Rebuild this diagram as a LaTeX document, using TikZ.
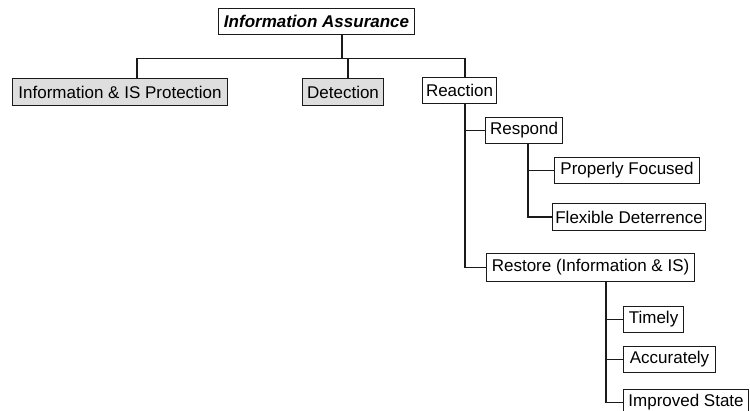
\documentclass[tikz,border=0pt]{standalone}
\usepackage{fontspec}
\setmainfont{Liberation Sans}
\usetikzlibrary{calc}
\definecolor{boxgray}{HTML}{DEDEDE}
\definecolor{ink}{HTML}{1A1A1A}
\begin{document}
\begin{tikzpicture}[x=1pt,y=-1pt,
  box/.style={draw=ink, line width=1.1pt, fill=white, inner sep=0pt, anchor=north west,
    font=\fontsize{17}{20}\selectfont, text=black},
  graybox/.style={box, fill=boxgray},
  conn/.style={draw=ink, line width=1.1pt},
  thick conn/.style={draw=ink, line width=1.7pt}]
\useasboundingbox (0,0) rectangle (750,411);
\clip (0,0) rectangle (750,411);
% nodes (north-west corner placed, explicit sizes)
\node[box, minimum width=196pt, minimum height=26pt, font=\fontsize{17}{20}\selectfont\bfseries\itshape] (ia) at (218,8) {Information Assurance};
\node[graybox, minimum width=215pt, minimum height=27pt] (iisp) at (12,78) {Information \& IS Protection};
\node[graybox, minimum width=81pt, minimum height=27pt] (det) at (302,78) {Detection};
\node[box, minimum width=74pt, minimum height=26pt] (react) at (422,77) {Reaction};
\node[box, minimum width=77pt, minimum height=26pt] (respond) at (485,117) {Respond};
\node[box, minimum width=145pt, minimum height=26pt] (pf) at (554,157) {Properly Focused};
\node[box, minimum width=153pt, minimum height=27pt] (fd) at (552,203) {Flexible Deterrence};
\node[box, minimum width=208pt, minimum height=28pt] (restore) at (486,253) {Restore (Information \& IS)};
\node[box, minimum width=60pt, minimum height=26pt] (timely) at (623,306) {Timely};
\node[box, minimum width=92pt, minimum height=26pt] (acc) at (623,346) {Accurately};
\node[box, minimum width=125pt, minimum height=26pt] (imp) at (623,389) {Improved State};
% junction coordinates
\coordinate (iastem) at ($(ia.south west)+(124,0)$);
\coordinate (bus) at ($(iastem)+(0,23)$);
\coordinate (iispstem) at ($(iisp.north west)+(125,0)$);
\coordinate (detstem) at ($(det.north west)+(46,0)$);
\coordinate (reactstem) at ($(react.north west)+(43,0)$);
\coordinate (t1) at ($(react.south west)+(43,0)$);
\coordinate (t2) at ($(respond.south west)+(43,0)$);
\coordinate (t3) at ($(restore.south west)+(120,0)$);
% top level connectors
\draw[thick conn] (iastem) -- (bus);
\draw[conn] (iispstem) -- (iispstem |- bus) -- (reactstem |- bus) -- (reactstem);
\draw[conn] (detstem) -- (detstem |- bus);
% reaction branch
\draw[thick conn] (t1) |- (restore.west);
\draw[conn] (t1 |- respond.west) -- (respond.west);
% respond branch
\draw[conn] (t2) |- (fd.west);
\draw[conn] (t2 |- pf.west) -- (pf.west);
% restore branch
\draw[thick conn] (t3) -- (t3 |- imp.west);
\draw[conn] (t3 |- imp.west) -- (imp.west);
\draw[conn] (t3 |- timely.west) -- (timely.west);
\draw[conn] (t3 |- acc.west) -- (acc.west);
\end{tikzpicture}
\end{document}
